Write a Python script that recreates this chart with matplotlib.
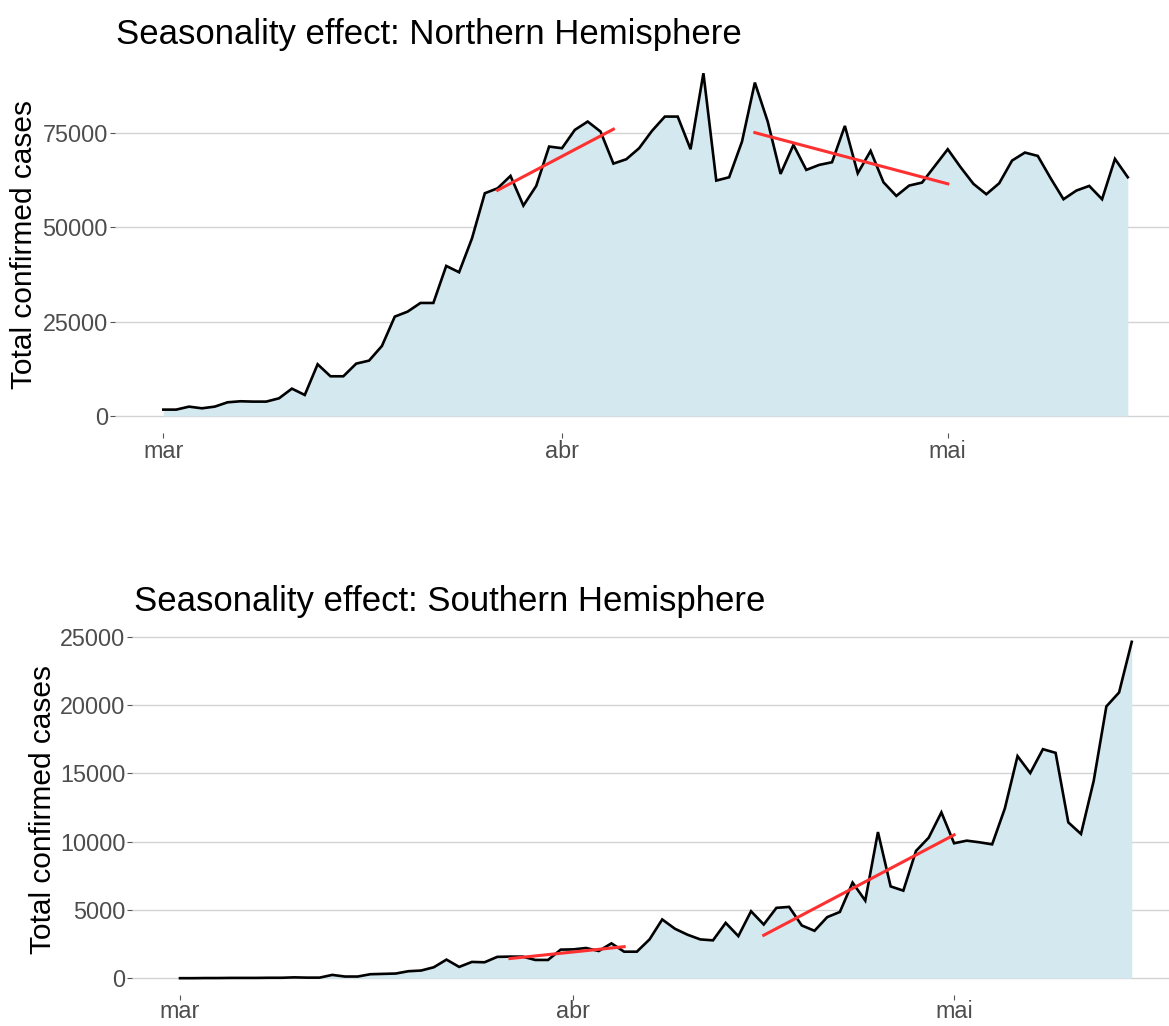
import numpy as np
import pandas as pd
import matplotlib
matplotlib.use("Agg")
import matplotlib.pyplot as plt

plt.rcParams["font.family"] = ["Liberation Sans", "DejaVu Sans"]

# Daily new confirmed cases, 1 March - 15 May 2020
dates = pd.date_range("2020-03-01", "2020-05-15", freq="D")

north_cases = [
    1680, 1680, 2470, 2030, 2470, 3620, 3890, 3800, 3800, 4680,
    7240, 5560, 13690, 10510, 10510, 13860, 14660, 18540, 26310, 27640,
    29930, 29930, 39740, 38060, 47000, 58980, 60310, 63580, 55720, 60930,
    71350, 70910, 75760, 77970, 75320, 66840, 67990, 70910, 75500, 79290,
    79290, 70640, 90770, 62340, 63220, 72670, 88300, 77970, 64110, 71790,
    65170, 66490, 67200, 76820, 64280, 70200, 61900, 58280, 61020, 61810,
    66230, 70640, 65870, 61460, 58720, 61630, 67640, 69760, 68870, 62960,
    57400, 59690, 60930, 57400, 68080, 63220,
]

south_cases = [
    0, 0, 10, 10, 20, 20, 20, 30, 30, 60,
    40, 40, 240, 120, 120, 290, 315, 340, 510, 560,
    800, 1360, 825, 1190, 1165, 1560, 1580, 1580, 1335, 1335,
    2090, 2110, 2210, 1990, 2550, 1940, 1940, 2840, 4300, 3620,
    3180, 2840, 2770, 4050, 3080, 4900, 3930, 5150, 5220, 3860,
    3470, 4470, 4850, 7000, 5680, 10700, 6720, 6410, 9320, 10290,
    12140, 9880, 10070, 9950, 9800, 12430, 16260, 15020, 16770, 16500,
    11410, 10560, 14440, 19900, 20920, 24630,
]

# Periods used for the linear trend lines
trend_windows = [("2020-03-27", "2020-04-05"), ("2020-04-16", "2020-05-01")]

month_ticks = ["2020-03-01", "2020-04-01", "2020-05-01"]
month_labels = ["mar", "abr", "mai"]

north_yticks = [0, 25000, 50000, 75000]
south_yticks = [0, 5000, 10000, 15000, 20000, 25000]

W, H = 1169, 1026
fig = plt.figure(figsize=(W / 100, H / 100), dpi=100)
fig.patch.set_facecolor("white")

start = dates[0]
day = np.array([(d - start).days for d in dates], dtype=float)
tick_pos = [(pd.Timestamp(t) - start).days for t in month_ticks]


def panel(rect_px, xlim, values, yticks, title, title_xy, ylabel_x, xpad=1.5):
    left, top, right, bottom = rect_px
    ax = fig.add_axes([left / W, 1 - bottom / H, (right - left) / W, (bottom - top) / H])
    ax.set_facecolor("white")
    vals = np.asarray(values, dtype=float)
    ax.fill_between(day, 0, vals, color="#d4e8f0", linewidth=0, zorder=1)
    ax.plot(day, vals, color="black", linewidth=1.9, zorder=3, solid_joinstyle="miter")
    for a, b in trend_windows:
        lo = (pd.Timestamp(a) - start).days
        hi = (pd.Timestamp(b) - start).days
        m = (day >= lo) & (day <= hi)
        k, c = np.polyfit(day[m], vals[m], 1)
        xs = np.array([lo, hi], dtype=float)
        ax.plot(xs, k * xs + c, color="#ff3030", linewidth=2.2, zorder=4)
    span = vals.max() - 0
    ax.set_ylim(-0.05 * span, vals.max() + 0.05 * span)
    ax.set_xlim(*xlim)
    ax.set_yticks(yticks)
    ax.set_yticklabels([str(v) for v in yticks])
    ax.set_xticks(tick_pos)
    ax.set_xticklabels(month_labels)
    ax.grid(axis="y", color="#d3d3d3", linewidth=1.0, zorder=0)
    ax.grid(axis="x", visible=False)
    for s in ax.spines.values():
        s.set_visible(False)
    ax.tick_params(axis="both", colors="#555555", labelcolor="#4d4d4d",
                   labelsize=16.8, length=3.5, width=0.8, pad=1.5)
    ax.tick_params(axis="x", pad=xpad)
    ax.set_axisbelow(True)
    fig.text(title_xy[0] / W, 1 - title_xy[1] / H, title, fontsize=25,
             ha="left", va="baseline", color="black")
    fig.text(ylabel_x / W, 1 - ((top + bottom) / 2) / H, "Total confirmed cases",
             rotation=90, fontsize=21.5, ha="center", va="center", color="black")
    return ax


# Northern hemisphere panel
px_day_n = 12.86
x0_n = 163.3
panel((115, 56.1, W, 433.1),
      (-(x0_n - 115) / px_day_n, (W - x0_n) / px_day_n),
      north_cases, north_yticks,
      "Seasonality effect: Northern Hemisphere", (116, 44), 24)

# Southern hemisphere panel
px_day_s = 12.69
x0_s = 180.0
panel((132.4, 625.0, W, 995.0),
      (-(x0_s - 132.4) / px_day_s, (W - x0_s) / px_day_s),
      south_cases, south_yticks,
      "Seasonality effect: Southern Hemisphere", (134, 611), 43, xpad=0.3)

fig.savefig("out.png", dpi=100, facecolor="white")
